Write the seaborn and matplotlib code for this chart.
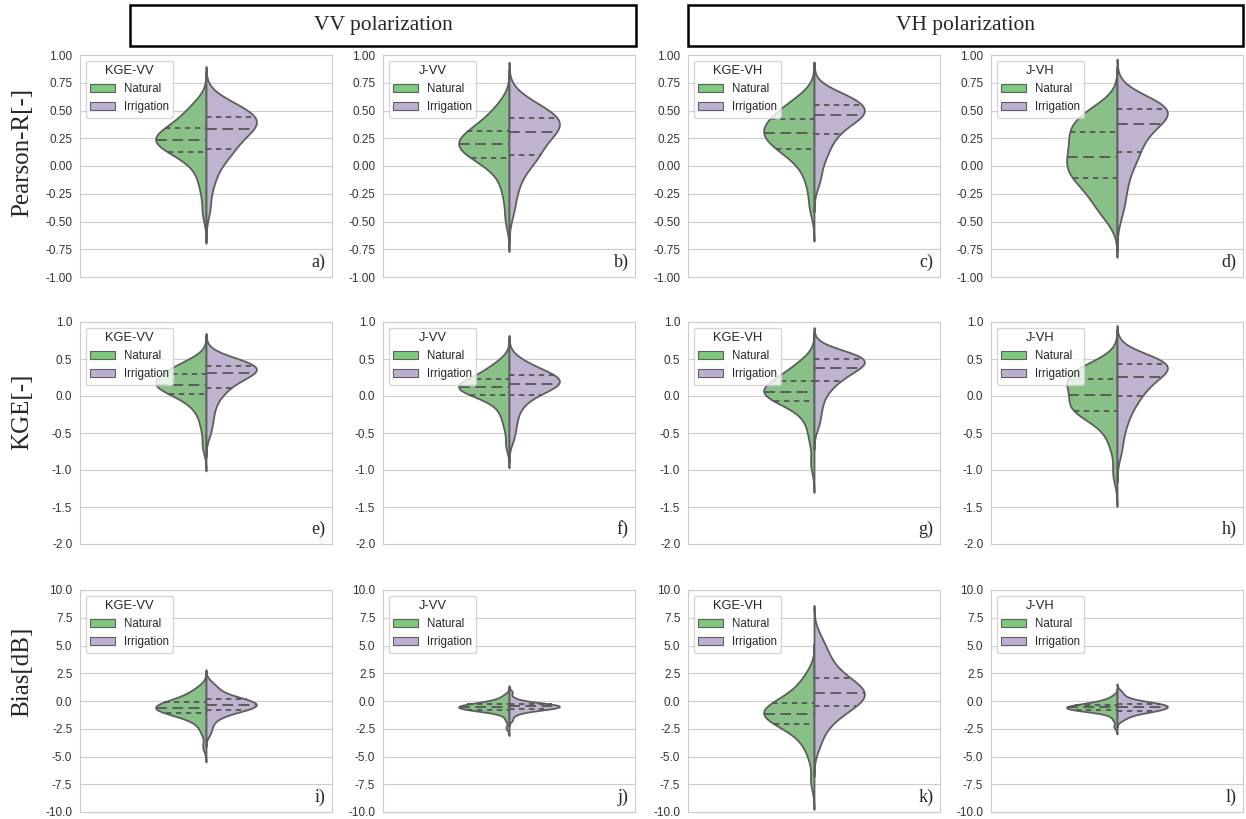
import numpy as np
import pandas as pd
import matplotlib
matplotlib.use("Agg")
import matplotlib.pyplot as plt
from matplotlib.patches import Patch, Rectangle
import seaborn as sns

# ---------------- data (hand-read sample values per violin half) ----------------
groups = ["Natural", "Irrigation"]
metric_names = ["KGE-VV", "J-VV", "KGE-VH", "J-VH"]
panel_letters = ["a)", "b)", "c)", "d)", "e)", "f)", "g)", "h)", "i)", "j)", "k)", "l)"]
row_labels = ["Pearson-R[-]", "KGE[-]", "Bias[dB]"]
header_labels = ["VV polarization", "VH polarization"]

# Pearson R
r_kge_vv_nat = [-0.42, -0.24, -0.13, -0.05, 0.02, 0.06, 0.09, 0.11, 0.13, 0.15, 0.17, 0.19, 0.20, 0.21, 0.22, 0.23,
                0.24, 0.25, 0.26, 0.27, 0.29, 0.30, 0.32, 0.34, 0.36, 0.38, 0.40, 0.43, 0.46, 0.50, 0.54, 0.58]
r_kge_vv_irr = [-0.38, -0.2, -0.1, -0.03, 0.04, 0.08, 0.11, 0.13, 0.16, 0.19, 0.22, 0.25, 0.27, 0.29, 0.31, 0.33,
                0.34, 0.36, 0.38, 0.39, 0.40, 0.41, 0.42, 0.44, 0.46, 0.47, 0.49, 0.50, 0.52, 0.55, 0.58, 0.60]
r_j_vv_nat = [-0.48, -0.3, -0.18, -0.1, -0.03, 0.01, 0.04, 0.06, 0.08, 0.10, 0.12, 0.14, 0.15, 0.17, 0.18, 0.19,
              0.20, 0.21, 0.23, 0.24, 0.26, 0.27, 0.29, 0.31, 0.33, 0.35, 0.37, 0.40, 0.43, 0.47, 0.52, 0.58]
r_j_vv_irr = [-0.4, -0.25, -0.15, -0.08, -0.01, 0.03, 0.06, 0.08, 0.11, 0.14, 0.17, 0.20, 0.23, 0.25, 0.28, 0.30,
              0.31, 0.33, 0.35, 0.37, 0.38, 0.39, 0.41, 0.43, 0.44, 0.45, 0.47, 0.49, 0.52, 0.55, 0.58, 0.62]
r_kge_vh_nat = [-0.38, -0.22, -0.1, -0.03, 0.04, 0.08, 0.11, 0.14, 0.16, 0.18, 0.20, 0.22, 0.24, 0.26, 0.27, 0.29,
                0.30, 0.31, 0.33, 0.35, 0.37, 0.38, 0.40, 0.42, 0.44, 0.46, 0.48, 0.50, 0.53, 0.56, 0.60, 0.64]
r_kge_vh_irr = [-0.15, -0.05, 0.05, 0.10, 0.15, 0.20, 0.24, 0.27, 0.30, 0.33, 0.36, 0.38, 0.40, 0.42, 0.43, 0.45,
                0.46, 0.47, 0.48, 0.49, 0.50, 0.51, 0.53, 0.55, 0.56, 0.57, 0.59, 0.60, 0.62, 0.63, 0.65, 0.67]
r_j_vh_nat = [-0.47, -0.4, -0.34, -0.29, -0.24, -0.19, -0.15, -0.13, -0.10, -0.07, -0.05, -0.02, 0.00, 0.03, 0.05, 0.07,
              0.10, 0.13, 0.16, 0.19, 0.22, 0.25, 0.28, 0.30, 0.32, 0.35, 0.38, 0.41, 0.44, 0.47, 0.50, 0.54]
r_j_vh_irr = [-0.42, -0.3, -0.2, -0.11, -0.04, 0.03, 0.07, 0.10, 0.14, 0.18, 0.22, 0.26, 0.29, 0.32, 0.35, 0.37,
              0.39, 0.41, 0.43, 0.45, 0.47, 0.48, 0.50, 0.51, 0.52, 0.53, 0.54, 0.55, 0.56, 0.57, 0.59, 0.61]

# KGE
k_kge_vv_nat = [-0.68, -0.45, -0.3, -0.2, -0.12, -0.07, -0.03, 0.0, 0.03, 0.06, 0.08, 0.10, 0.12, 0.13, 0.14, 0.15,
                0.16, 0.17, 0.19, 0.21, 0.23, 0.25, 0.27, 0.29, 0.31, 0.33, 0.35, 0.37, 0.40, 0.43, 0.46, 0.49]
k_kge_vv_irr = [-0.5, -0.36, -0.25, -0.15, -0.07, 0.0, 0.05, 0.08, 0.12, 0.15, 0.18, 0.21, 0.24, 0.26, 0.28, 0.30,
                0.31, 0.32, 0.34, 0.35, 0.36, 0.37, 0.38, 0.40, 0.41, 0.42, 0.43, 0.45, 0.46, 0.48, 0.50, 0.52]
k_j_vv_nat = [-0.66, -0.44, -0.31, -0.22, -0.14, -0.08, -0.04, -0.01, 0.02, 0.04, 0.06, 0.07, 0.08, 0.09, 0.10, 0.11,
              0.12, 0.13, 0.14, 0.16, 0.17, 0.19, 0.20, 0.22, 0.24, 0.26, 0.29, 0.32, 0.35, 0.39, 0.43, 0.48]
k_j_vv_irr = [-0.58, -0.44, -0.33, -0.23, -0.15, -0.09, -0.04, -0.01, 0.03, 0.06, 0.08, 0.10, 0.12, 0.13, 0.15, 0.16,
              0.17, 0.19, 0.20, 0.21, 0.22, 0.24, 0.26, 0.28, 0.29, 0.30, 0.32, 0.34, 0.37, 0.41, 0.45, 0.50]
k_kge_vh_nat = [-0.92, -0.62, -0.45, -0.32, -0.23, -0.17, -0.12, -0.09, -0.06, -0.04, -0.02, 0.00, 0.01, 0.02, 0.04, 0.05,
                0.06, 0.08, 0.10, 0.12, 0.14, 0.16, 0.18, 0.20, 0.22, 0.25, 0.28, 0.31, 0.35, 0.39, 0.44, 0.50]
k_kge_vh_irr = [-0.4, -0.26, -0.15, -0.05, 0.03, 0.09, 0.14, 0.17, 0.21, 0.24, 0.27, 0.30, 0.32, 0.34, 0.36, 0.38,
                0.39, 0.41, 0.43, 0.44, 0.46, 0.47, 0.48, 0.50, 0.51, 0.53, 0.54, 0.55, 0.56, 0.57, 0.58, 0.60]
k_j_vh_nat = [-1.05, -0.72, -0.55, -0.43, -0.34, -0.28, -0.25, -0.22, -0.20, -0.18, -0.16, -0.13, -0.10, -0.07, -0.04, -0.01,
              0.03, 0.06, 0.10, 0.13, 0.16, 0.19, 0.21, 0.23, 0.25, 0.27, 0.30, 0.33, 0.36, 0.39, 0.42, 0.46]
k_j_vh_irr = [-0.75, -0.55, -0.4, -0.3, -0.22, -0.14, -0.08, -0.04, 0.01, 0.05, 0.09, 0.13, 0.17, 0.20, 0.23, 0.25,
              0.27, 0.30, 0.33, 0.35, 0.37, 0.39, 0.41, 0.43, 0.44, 0.45, 0.46, 0.47, 0.48, 0.50, 0.51, 0.53]

# Bias [dB]
b_kge_vv_nat = [-4.1, -2.9, -2.3, -1.9, -1.6, -1.4, -1.3, -1.18, -1.10, -1.02, -0.94, -0.86, -0.79, -0.73, -0.68, -0.63,
                -0.58, -0.52, -0.46, -0.40, -0.33, -0.25, -0.18, -0.10, -0.02, 0.08, 0.20, 0.35, 0.52, 0.72, 0.98, 1.3]
b_kge_vv_irr = [-2.9, -2.3, -1.8, -1.5, -1.25, -1.1, -0.98, -0.87, -0.80, -0.73, -0.66, -0.60, -0.53, -0.47, -0.41, -0.36,
                -0.31, -0.26, -0.20, -0.14, -0.08, -0.01, 0.05, 0.12, 0.20, 0.30, 0.42, 0.56, 0.75, 1.0, 1.3, 1.6]
b_j_vv_nat = [-2.4, -1.7, -1.3, -1.05, -0.95, -0.88, -0.83, -0.80, -0.77, -0.73, -0.70, -0.67, -0.63, -0.60, -0.57, -0.55,
              -0.52, -0.49, -0.46, -0.43, -0.40, -0.37, -0.33, -0.30, -0.26, -0.21, -0.15, -0.08, 0.0, 0.12, 0.3, 0.55]
b_j_vv_irr = [-1.7, -1.3, -1.1, -0.97, -0.88, -0.82, -0.78, -0.75, -0.72, -0.68, -0.65, -0.62, -0.59, -0.56, -0.53, -0.50,
              -0.48, -0.46, -0.43, -0.40, -0.38, -0.35, -0.33, -0.30, -0.27, -0.23, -0.18, -0.12, -0.05, 0.05, 0.3, 0.8]
b_kge_vh_nat = [-7.2, -5.2, -4.2, -3.6, -3.1, -2.8, -2.5, -2.2, -2.05, -1.9, -1.75, -1.6, -1.5, -1.4, -1.3, -1.2,
                -1.08, -0.95, -0.82, -0.7, -0.58, -0.45, -0.32, -0.2, -0.05, 0.15, 0.4, 0.7, 1.0, 1.4, 1.9, 2.6]
b_kge_vh_irr = [-4.0, -2.9, -2.2, -1.7, -1.35, -1.05, -0.8, -0.6, -0.4, -0.2, -0.02, 0.15, 0.3, 0.42, 0.54, 0.65,
                0.78, 0.92, 1.08, 1.25, 1.42, 1.6, 1.8, 2.0, 2.25, 2.55, 2.9, 3.3, 3.8, 4.3, 4.9, 5.8]
b_j_vh_nat = [-2.3, -1.7, -1.35, -1.12, -1.0, -0.93, -0.88, -0.85, -0.82, -0.78, -0.75, -0.71, -0.68, -0.65, -0.62, -0.60,
              -0.57, -0.54, -0.51, -0.48, -0.45, -0.42, -0.38, -0.35, -0.31, -0.26, -0.2, -0.13, -0.05, 0.05, 0.2, 0.45]
b_j_vh_irr = [-1.7, -1.45, -1.3, -1.15, -1.05, -0.98, -0.93, -0.90, -0.85, -0.8, -0.75, -0.7, -0.66, -0.62, -0.58, -0.55,
              -0.51, -0.47, -0.43, -0.39, -0.35, -0.31, -0.28, -0.25, -0.2, -0.15, -0.08, 0.0, 0.1, 0.25, 0.5, 0.85]

rows_data = [
    [(r_kge_vv_nat, r_kge_vv_irr), (r_j_vv_nat, r_j_vv_irr), (r_kge_vh_nat, r_kge_vh_irr), (r_j_vh_nat, r_j_vh_irr)],
    [(k_kge_vv_nat, k_kge_vv_irr), (k_j_vv_nat, k_j_vv_irr), (k_kge_vh_nat, k_kge_vh_irr), (k_j_vh_nat, k_j_vh_irr)],
    [(b_kge_vv_nat, b_kge_vv_irr), (b_j_vv_nat, b_j_vv_irr), (b_kge_vh_nat, b_kge_vh_irr), (b_j_vh_nat, b_j_vh_irr)],
]
row_ylims = [(-1.0, 1.0), (-2.0, 1.0), (-10.0, 10.0)]
row_tick_steps = [0.25, 0.5, 2.5]

# ---------------- style ----------------
sns.set_style("whitegrid")
plt.rcParams["font.family"] = ["Liberation Sans", "DejaVu Sans"]
plt.rcParams["axes.unicode_minus"] = False
SERIF = ["Liberation Serif", "DejaVu Serif"]
palette = sns.color_palette("Accent", 2)
line_col = "#5e5e5e"

W, H = 1246, 819
fig = plt.figure(figsize=(W / 100, H / 100), dpi=100)

col_left_px = [80, 383, 688, 991]
ax_w_px = 252
row_top_px = [55, 322, 590]
ax_h_px = 222

for r in range(3):
    for c in range(4):
        left = col_left_px[c] / W
        bottom = 1 - (row_top_px[r] + ax_h_px) / H
        ax = fig.add_axes([left, bottom, ax_w_px / W, ax_h_px / H])
        nat, irr = rows_data[r][c]
        name = metric_names[c]
        df = pd.DataFrame({
            "value": list(nat) + list(irr),
            "group": [groups[0]] * len(nat) + [groups[1]] * len(irr),
            "metric": [name] * (len(nat) + len(irr)),
        })
        n_before = len(ax.lines)
        sns.violinplot(data=df, x="metric", y="value", hue="group", hue_order=groups,
                       split=True, inner="quart", palette=palette, density_norm="width",
                       width=0.4, linewidth=1.3, linecolor=line_col, bw_adjust=0.85, cut=3,
                       legend=False, ax=ax)
        inner = ax.lines[n_before:]
        for i, ln in enumerate(inner):
            ln.set_linewidth(1.3)
            ln.set_color("#555555")
            if i % 3 == 1:
                ln.set_dashes((6, 3))
            else:
                ln.set_dashes((3, 2.5))
        ax.set_xlim(-0.5, 0.5)
        ax.set_xticks([])
        ax.set_xlabel("")
        ax.set_ylabel("")
        lo, hi = row_ylims[r]
        ax.set_ylim(lo, hi)
        ax.set_yticks(np.arange(lo, hi + 1e-9, row_tick_steps[r]))
        ax.tick_params(axis="y", labelsize=8.5, colors="#333333", pad=2)
        for s in ax.spines.values():
            s.set_color("#cccccc")
        handles = [Patch(facecolor=palette[i], edgecolor=line_col, linewidth=0.8, label=groups[i])
                   for i in range(2)]
        ax.legend(handles=handles, title=name, loc="upper left", fontsize=8.3,
                  title_fontsize=9.3, frameon=True, handlelength=2.1)
        ax.text(0.975, 0.025, panel_letters[r * 4 + c], transform=ax.transAxes,
                ha="right", va="bottom", fontsize=13, family=SERIF)

# row labels
row_label_y_px = [152, 412, 672]
for r in range(3):
    fig.text(22 / W, 1 - row_label_y_px[r] / H, row_labels[r], rotation=90,
             ha="center", va="center", fontsize=18, family=SERIF)

# header boxes
boxes = [(130, 636), (688, 1243)]
for (x0, x1), lab in zip(boxes, header_labels):
    y0, y1 = 5, 46
    rect = Rectangle((x0 / W, 1 - y1 / H), (x1 - x0) / W, (y1 - y0) / H,
                     transform=fig.transFigure, fill=False, edgecolor="black", linewidth=1.8)
    fig.add_artist(rect)
    fig.text((x0 + x1) / 2 / W, 1 - (y0 + y1) / 2 / H, lab, ha="center", va="center",
             fontsize=15.5, family=SERIF)

fig.savefig("out.png", dpi=100)
